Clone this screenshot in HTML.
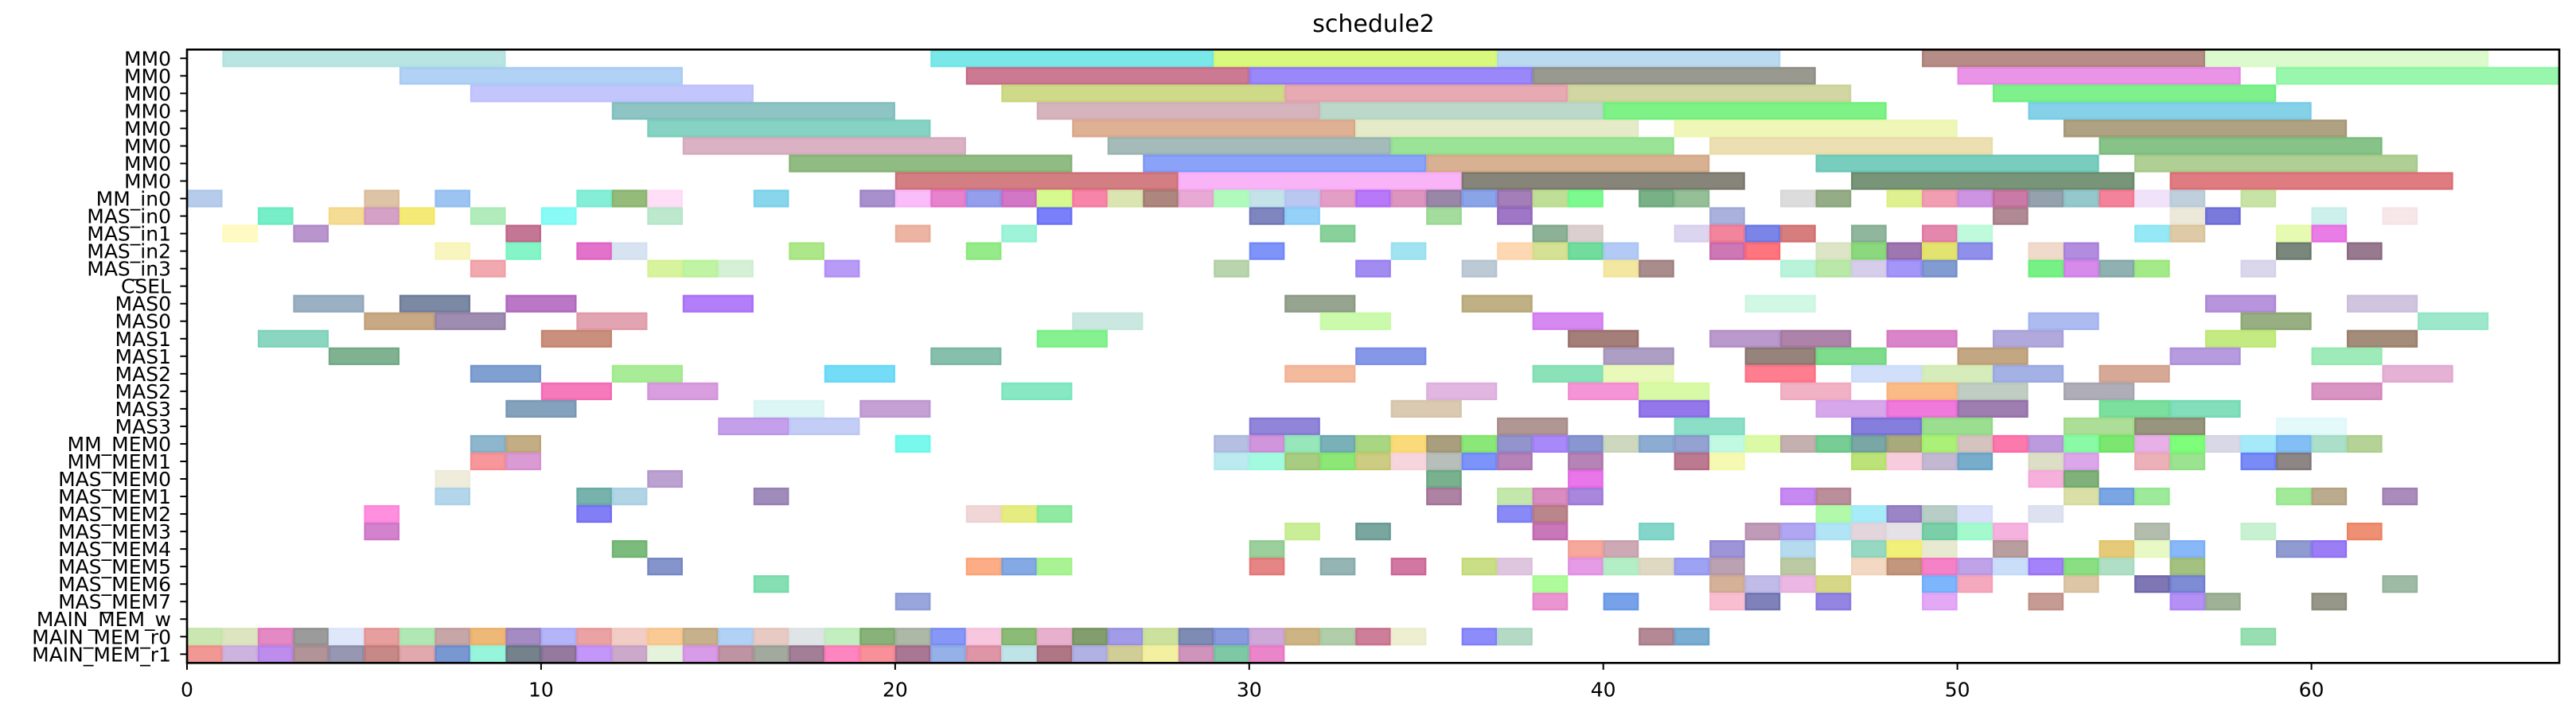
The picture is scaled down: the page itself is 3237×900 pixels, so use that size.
<!DOCTYPE html>
<html><head><meta charset="utf-8"><title>schedule2</title>
<style>
html,body{margin:0;padding:0;background:#fff;}
svg{display:block;font-family:"DejaVu Sans","Liberation Sans",sans-serif;}
</style></head>
<body>
<svg id="chart" width="3237" height="900" viewBox="0 0 3237 900" xmlns="http://www.w3.org/2000/svg">
<rect width="3237" height="900" fill="#fff"/>
<text x="1726" y="40" text-anchor="middle" font-size="30">schedule2</text>
<g id="bars"></g>
<g id="axes"></g>
</svg>
<script>
const rowLabels = ["MM0","MM0","MM0","MM0","MM0","MM0","MM0","MM0","MM_in0","MAS_in0","MAS_in1","MAS_in2","MAS_in3","CSEL","MAS0","MAS0","MAS1","MAS1","MAS2","MAS2","MAS3","MAS3","MM_MEM0","MM_MEM1","MAS_MEM0","MAS_MEM1","MAS_MEM2","MAS_MEM3","MAS_MEM4","MAS_MEM5","MAS_MEM6","MAS_MEM7","MAIN_MEM_w","MAIN_MEM_r0","MAIN_MEM_r1"];
const xTicks = [0,10,20,30,40,50,60];
const xMax = 67;
// each row: entries [start, end, color] or [start, color] (unit-length task)
const schedule = [
[[1,9,'#b0e2de'],[21,29,'#6be6e6'],[29,37,'#d4f870'],[37,45,'#b2d6ee'],[49,57,'#ae807a'],[57,65,'#d8fac8']],
[[6,14,'#a8ccf4'],[22,30,'#c66c88'],[30,38,'#8f7af8'],[38,46,'#8e8e84'],[50,58,'#e888e6'],[59,67,'#8ef6a4']],
[[8,16,'#bcc0fc'],[23,31,'#cad67c'],[31,39,'#e4a0aa'],[39,47,'#ccd298'],[51,59,'#70ee80']],
[[12,20,'#82bebe'],[24,32,'#d2acb6'],[32,40,'#b4d4c4'],[40,48,'#70f07a'],[52,60,'#78cce6']],
[[13,21,'#7acebc'],[25,33,'#daa888'],[33,41,'#e2e8c2'],[42,50,'#ecf6b0'],[53,61,'#a69876']],
[[14,22,'#d6aabe'],[26,34,'#9ab4b2'],[34,42,'#90e08c'],[43,51,'#eadca8'],[54,62,'#7abc7c']],
[[17,25,'#84b474'],[27,35,'#7e98f8'],[35,43,'#d4a886'],[46,54,'#6ac8b8'],[55,63,'#a6ca8a']],
[[20,28,'#ce7076'],[28,36,'#f8acf6'],[36,44,'#7a786c'],[47,55,'#6a8a6a'],[56,64,'#dc6e74']],
[[0,'#aec6e8'],[5,'#dabe9c'],[7,'#92bef0'],[11,'#78ecd2'],[12,'#88b46c'],[13,'#ffdaf6'],[16,'#7ad2ea'],[19,'#9f84c8'],[20,'#f8b6f8'],[21,'#e474c8'],[22,'#8894ea'],[23,'#cc68c0'],[24,'#d2fa84'],[25,'#f678a0'],[26,'#d6e2aa'],[27,'#a47a70'],[28,'#e6a0d0'],[29,'#a8fab6'],[30,'#bce0e6'],[31,'#b2c2f0'],[32,'#e094c0'],[33,'#b06af8'],[34,'#d88ab8'],[35,'#8e7a9e'],[36,'#7e9ae6'],[37,'#9a70b0'],[38,'#b8dc8c'],[39,'#6efa84'],[41,'#6aa87a'],[42,'#88b88c'],[45,'#d8d8d8'],[46,'#8aa47a'],[48,'#dcee84'],[49,'#f094aa'],[50,'#c88ade'],[51,'#c46c9c'],[52,'#8898a4'],[53,'#8ac2c6'],[54,'#f27690'],[55,'#eee0f8'],[56,'#b8cad8'],[58,'#c2e09c']],
[[2,'#68ecc2'],[4,'#f4d888'],[5,'#d098c0'],[6,'#f4e868'],[8,'#aaeab6'],[10,'#7cfaf4'],[13,'#b6e6c8'],[24,'#6a72f8'],[30,'#7078b8'],[31,'#8accf8'],[35,'#9ad894'],[37,'#9468c0'],[43,'#a0a8d8'],[51,'#a67c88'],[56,'#eae6d6'],[57,'#6c6cd8'],[60,'#c8eeea'],[62,'#f6e4e6']],
[[1,'#fffabc'],[3,'#b08ac8'],[9,'#be6888'],[20,'#eaac98'],[23,'#94f2d4'],[32,'#7ccc90'],[38,'#80a88c'],[39,'#d8caca'],[42,'#d8d0ee'],[43,'#f07890'],[44,'#6c78e4'],[45,'#d27070'],[47,'#84ae94'],[49,'#e07aa4'],[50,'#b8fad8'],[55,'#8ae6f4'],[56,'#dac49c'],[59,'#e4faa8'],[60,'#e86ee4']],
[[7,'#f8f4b8'],[9,'#78f4c2'],[11,'#e064c4'],[12,'#d4e0f0'],[17,'#a4e47c'],[22,'#8ae87c'],[30,'#7088f8'],[34,'#98e0f0'],[37,'#fed4aa'],[38,'#d0de88'],[39,'#62d894'],[40,'#aac4f4'],[43,'#c868ac'],[44,'#fe6670'],[46,'#d8e2c0'],[47,'#80d470'],[48,'#9468a8'],[49,'#e0e060'],[50,'#8484e8'],[52,'#eed6c6'],[53,'#a880dc'],[59,'#6a7a6e'],[61,'#8c6c84']],
[[8,'#f0a0a6'],[13,'#d4f294'],[14,'#baf29a'],[15,'#d0eed0'],[18,'#b090f6'],[29,'#b0d0a4'],[33,'#9880f0'],[36,'#b4c4d0'],[40,'#f2e498'],[41,'#a08080'],[45,'#b0f2d6'],[46,'#b2e6a0'],[47,'#d0c8e8'],[48,'#9a8af8'],[49,'#7490cc'],[52,'#68f078'],[53,'#d27ee8'],[54,'#84a8a8'],[55,'#9ae87c'],[58,'#d6d2ea']],
[],
[[3,5,'#90a8bc'],[6,8,'#6e7c9a'],[9,11,'#b268c0'],[14,16,'#aa70f8'],[31,33,'#8c9a84'],[36,38,'#b8a878'],[44,46,'#ccf6e2'],[57,59,'#b088d8'],[61,63,'#ccbedc']],
[[5,7,'#c2a078'],[7,9,'#9480a8'],[11,13,'#e09aaa'],[25,27,'#c4e6dc'],[32,34,'#c6faa4'],[38,40,'#d27cf0'],[52,54,'#a4b4f0'],[58,60,'#8ca674'],[63,65,'#92e6c6']],
[[2,4,'#7ed2ba'],[10,12,'#c48470'],[24,26,'#78f084'],[39,41,'#9a706a'],[43,45,'#b28ec6'],[45,47,'#a476a0'],[48,50,'#d678c4'],[51,53,'#a8a0d8'],[57,59,'#bee874'],[61,63,'#9a806c']],
[[4,6,'#72aa86'],[21,23,'#7ab8a4'],[33,35,'#7a8ce6'],[40,42,'#a494bc'],[44,46,'#8a766e'],[46,48,'#70d880'],[50,52,'#bc9c74'],[56,58,'#ae90dc'],[60,62,'#94e8b0']],
[[8,10,'#7296cc'],[12,14,'#a0ea8c'],[18,20,'#66d8f6'],[31,33,'#f2b294'],[38,40,'#80dfb0'],[40,42,'#e6f8b2'],[44,46,'#fe7084'],[47,49,'#ccdcfa'],[49,51,'#d2eab2'],[51,53,'#9aa8e2'],[54,56,'#d2a08c'],[62,64,'#e2a8d0']],
[[10,12,'#f46ab4'],[13,15,'#d494da'],[23,25,'#7ae6bc'],[35,37,'#deaede'],[39,41,'#f48ad0'],[41,43,'#d4fa9c'],[45,47,'#f0aac0'],[48,50,'#fab47a'],[50,52,'#b8c8bc'],[53,55,'#a6a4b0'],[60,62,'#d488bc']],
[[9,11,'#7898b6'],[16,18,'#d8f4f4'],[19,21,'#be96d0'],[34,36,'#d6c4aa'],[41,43,'#8868e8'],[46,48,'#d29ee8'],[48,50,'#ee6ad8'],[50,52,'#9470a8'],[54,56,'#6edc94'],[56,58,'#74dab4']],
[[15,17,'#be96e8'],[17,19,'#bcc8f4'],[30,32,'#8478d4'],[37,39,'#a88c88'],[42,44,'#80dcc0'],[47,49,'#7870d8'],[49,51,'#90da84'],[53,55,'#a4da8c'],[55,57,'#8c8a70'],[59,61,'#e0f8fa']],
[[8,'#82aec8'],[9,'#bca478'],[20,'#6af8ea'],[29,'#acb8de'],[30,'#cc8ad8'],[31,'#8ce4b4'],[32,'#6ca8b0'],[33,'#a0d274'],[34,'#fad66a'],[35,'#a09470'],[36,'#7ee468'],[37,'#8888c8'],[38,'#a07cf8'],[39,'#7c8ccc'],[40,'#c8d4b8'],[41,'#80a4cc'],[42,'#8898cc'],[43,'#baf8e0'],[44,'#d6fa9c'],[45,'#bea8a6'],[46,'#68c888'],[47,'#6c9c9c'],[48,'#a0a070'],[49,'#a2ee68'],[50,'#d0bcb8'],[51,'#fc6aa4'],[52,'#b490da'],[53,'#7cfa9c'],[54,'#6ee460'],[55,'#e4a8e4'],[56,'#70fe6c'],[57,'#d4d4e4'],[58,'#9ce8fa'],[59,'#76b8f4'],[60,'#a2dcc4'],[61,'#aece8c']],
[[8,'#f68c90'],[9,'#d690d0'],[29,'#b4e8ee'],[30,'#9afadc'],[31,'#9ec674'],[32,'#80e468'],[33,'#c6c674'],[34,'#f6d0d8'],[35,'#b0b8b4'],[36,'#6e88fa'],[37,'#ae74b0'],[39,'#ae76ae'],[42,'#b46c84'],[43,'#f4f8a8'],[47,'#b4e068'],[48,'#f6c8da'],[49,'#bcb0cc'],[50,'#68a4c4'],[52,'#d8dac0'],[53,'#d89ce8'],[55,'#eaa8b0'],[56,'#90e084'],[58,'#6a7ef4'],[59,'#827878']],
[[7,'#eeead8'],[13,'#b498cc'],[35,'#6aa882'],[39,'#e868e8'],[52,'#f4a8d8'],[53,'#72a86c']],
[[7,'#acd2e8'],[11,'#68aaa4'],[12,'#a8d0e2'],[16,'#9680b4'],[35,'#a47498'],[37,'#bee4a4'],[38,'#d480b8'],[39,'#a07ad8'],[45,'#c07cf0'],[46,'#b48290'],[53,'#d6dc9e'],[54,'#6c9ce0'],[55,'#94e890'],[59,'#98e88e'],[60,'#b4a282'],[62,'#a080b4']],
[[5,'#fe84dc'],[11,'#7470f4'],[22,'#eed2d2'],[23,'#e2ea74'],[24,'#84e898'],[37,'#7c7cf6'],[38,'#b47880'],[46,'#aafaa0'],[47,'#a0eaf8'],[48,'#9078c0'],[49,'#b0c8c0'],[50,'#d6dcfa'],[52,'#dadeee']],
[[5,'#ce76c8'],[31,'#c4ec8c'],[33,'#6a9c94'],[38,'#c268b0'],[41,'#78d2c4'],[44,'#b890b0'],[45,'#a89cf0'],[46,'#a8e2f4'],[47,'#e0d0d8'],[48,'#e2dee4'],[49,'#6ccaa0'],[50,'#9afac8'],[51,'#f4aadc'],[55,'#acb6a4'],[58,'#c2f0cc'],[61,'#ec8464']],
[[12,'#6eb470'],[30,'#90ca90'],[39,'#f49e90'],[40,'#c8a0ac'],[43,'#9488d4'],[45,'#aed6ec'],[47,'#8cd4bc'],[48,'#f0ee6a'],[49,'#e4e8cc'],[51,'#b09494'],[54,'#e2c46c'],[55,'#e6f8c0'],[56,'#7cb0f8'],[59,'#8490cc'],[60,'#9070f4']],
[[13,'#7888c4'],[22,'#fca478'],[23,'#78a0e0'],[24,'#a0f288'],[30,'#e27878'],[32,'#8aacac'],[34,'#cc6898'],[36,'#c4da78'],[37,'#dcc0dc'],[39,'#e290e2'],[40,'#acecc0'],[41,'#dcd4bc'],[42,'#9498f2'],[43,'#b498aa'],[45,'#b4c498'],[47,'#f2d4bc'],[48,'#bc8c70'],[49,'#f474c0'],[50,'#b898e4'],[51,'#c4dafa'],[52,'#9a74f8'],[53,'#7cdc74'],[54,'#a8dcc0'],[56,'#9aba74']],
[[16,'#78dcaa'],[38,'#a6fa90'],[43,'#d0a88e'],[44,'#bab4e6'],[45,'#e8b0e0'],[46,'#d2d47a'],[49,'#70aefc'],[50,'#f4a0b8'],[53,'#d8c09c'],[55,'#7068ac'],[56,'#7080d0'],[62,'#94b49c']],
[[20,'#8e9cd8'],[38,'#e888cc'],[40,'#6898e8'],[43,'#f8b8cc'],[44,'#7074b0'],[46,'#8878e0'],[49,'#e0a0f4'],[52,'#c09088'],[56,'#ac84f4'],[57,'#94aa8c'],[60,'#8c8c7c']],
[],
[[0,'#c4e4a8'],[1,'#d8e2b8'],[2,'#e07cbc'],[3,'#909090'],[4,'#dce4fa'],[5,'#e49494'],[6,'#a8e4ac'],[7,'#c09c9c'],[8,'#ecb068'],[9,'#9a80bc'],[10,'#acacf8'],[11,'#e89898'],[12,'#f0c8c0'],[13,'#f8c488'],[14,'#c0a880'],[15,'#a8ccf4'],[16,'#e4c4bc'],[17,'#dce2e4'],[18,'#bcecb8'],[19,'#7ca86c'],[20,'#a4b09c'],[21,'#7a8cf4'],[22,'#f6c0dc'],[23,'#80b468'],[24,'#e4a8c8'],[25,'#76945e'],[26,'#9890e4'],[27,'#c6de94'],[28,'#7080ac'],[29,'#7c90d8'],[30,'#c8a0d4'],[31,'#c8ac78'],[32,'#a8c8a0'],[33,'#c8708e'],[34,'#ececcc'],[36,'#8080fa'],[37,'#acd6c0'],[41,'#aa7c8a'],[42,'#6ca4cc'],[58,'#8cdca8']],
[[0,'#f08c88'],[1,'#c8acdc'],[2,'#b680ea'],[3,'#a8888c'],[4,'#8c8ca8'],[5,'#c07c7a'],[6,'#dea0a4'],[7,'#6a8ccc'],[8,'#8cf4d8'],[9,'#667480'],[10,'#8a6c94'],[11,'#bc8cf8'],[12,'#c6a0c4'],[13,'#e2f2d8'],[14,'#d490e4'],[15,'#b88898'],[16,'#98a094'],[17,'#98708c'],[18,'#fe78b8'],[19,'#f6848e'],[20,'#a06888'],[21,'#8aa8e4'],[22,'#da8a9c'],[23,'#b8e0e4'],[24,'#a66878'],[25,'#aaa8e0'],[26,'#ccc88c'],[27,'#f2ee98'],[28,'#ca88b4'],[29,'#70c29c'],[30,'#e878c4']]
];

const NS = "http://www.w3.org/2000/svg";
const L = 235, R = 3216, T = 62.3, B = 833.3;
const rowH = (B - T) / rowLabels.length;
function xScale(v){ return L + v * (R - L) / xMax; }
function yTop(i){ return T + i * rowH; }
function yCenter(i){ return T + (i + 0.5) * rowH; }
function mk(tag, attrs){ const e = document.createElementNS(NS, tag); for (const k in attrs) e.setAttribute(k, attrs[k]); return e; }

const barsG = document.getElementById('bars');
schedule.forEach((tasks, ri) => {
  tasks.forEach((t, ti) => {
    const s = t[0];
    const e = t.length === 3 ? t[1] : t[0] + 1;
    const c = t[t.length - 1];
    const x0 = xScale(s), x1 = xScale(e);
    const r = mk('rect', {x: x0 + 1.2, y: yTop(ri) + 1.2, width: Math.max(0, x1 - x0 - 2.4), height: rowH - 2.4, fill: c, 'fill-opacity': 0.9, stroke: c, 'stroke-width': 2.6});
    
    
    barsG.appendChild(r);
  });
});

const axesG = document.getElementById('axes');
const frame = mk('rect', {x: L, y: T, width: R - L, height: B - T, fill: 'none', stroke: '#000', 'stroke-width': 2.6});


axesG.appendChild(frame);

rowLabels.forEach((lab, i) => {
  const y = yCenter(i);
  const tk = mk('line', {x1: L - 8.6, x2: L, y1: y, y2: y, stroke: '#000', 'stroke-width': 2});
  
  
  axesG.appendChild(tk);
  const tx = mk('text', {x: L - 20, y: y + 9, 'text-anchor': 'end', 'font-size': 25});
  tx.textContent = lab;
  
  
  axesG.appendChild(tx);
});

xTicks.forEach(v => {
  const x = xScale(v);
  const tk = mk('line', {x1: x, x2: x, y1: B, y2: B + 8.6, stroke: '#000', 'stroke-width': 2});
  
  
  axesG.appendChild(tk);
  const tx = mk('text', {x: x, y: B + 42, 'text-anchor': 'middle', 'font-size': 25});
  tx.textContent = String(v);
  
  
  axesG.appendChild(tx);
});
</script>
</body></html>
